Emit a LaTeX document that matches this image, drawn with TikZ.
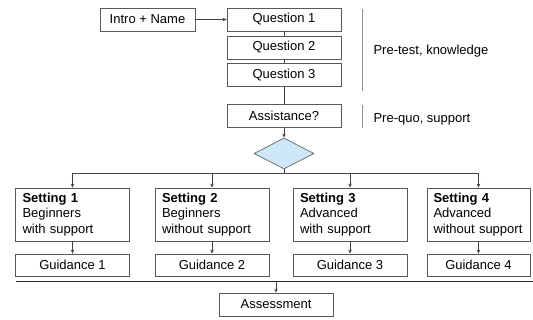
\documentclass[tikz,border=0pt]{standalone}
\usepackage{fontspec}
\setmainfont{Liberation Sans}
\usepackage{xcolor}
\usetikzlibrary{arrows.meta}
\usetikzlibrary{shapes.geometric}
\definecolor{diafill}{RGB}{206,232,250}

\begin{document}
\begin{tikzpicture}[x=1pt,y=-1pt]
\tikzstyle{every node}=[font=\fontsize{13}{15.5}\selectfont]
\tikzstyle{box}=[draw=black!65, line width=0.8pt, fill=white, minimum width=114, minimum height=23, inner sep=0pt]
\tikzstyle{setbox}=[box, minimum height=53, text width=100, align=left, inner xsep=7pt]
\tikzstyle{conn}=[draw=black!75, line width=0.8pt]
\tikzstyle{arr}=[conn, -{Stealth[length=4pt,width=3.5pt]}]
\tikzstyle{sidebar}=[draw=black!45, line width=0.8pt]
\useasboundingbox (0,0) rectangle (533,320);
% top column
\node [box, minimum width=95] (intro) at (147.5,19.5) {Intro + Name};
\node [box] (q1) at (284,19.5) {Question 1};
\node [box] (q2) at (284,47.5) {Question 2};
\node [box] (q3) at (284,75) {Question 3};
\node [box] (assist) at (284,116) {Assistance?};
\node [diamond, draw=black!55, line width=0.8pt, fill=diafill, minimum width=60, minimum height=31, inner sep=0pt] (dia) at (284,153.5) {};
\draw [arr] (intro) -- (q1);
\draw [conn] (q1) -- (q2);
\draw [conn] (q2) -- (q3);
\draw [conn] (q3) -- (assist);
\draw [arr] (assist) -- (dia);
% side notes
\node [anchor=west] (pretest) at (370,51) {Pre-test, knowledge};
\node [anchor=west] (prequo) at (370,119) {Pre-quo, support};
\draw [sidebar] ([xshift=-8]pretest.west) ++(0,-42) -- ++(0,82);
\draw [sidebar] ([xshift=-8]prequo.west) ++(0,-14) -- ++(0,23);
% settings
\node [setbox] (s1) at (72.5,214.5) {\textbf{Setting 1}\\Beginners\\with support};
\node [setbox] (s2) at (212,214.5) {\textbf{Setting 2}\\Beginners\\without support};
\node [setbox] (s3) at (350,214.5) {\textbf{Setting 3}\\Advanced\\with support};
\node [setbox, minimum width=103, text width=90, inner xsep=6.5pt] (s4) at (478.5,214.5) {\textbf{Setting 4}\\Advanced\\without support};
\node [box, minimum height=22] (g1) at (72.5,265) {Guidance 1};
\node [box, minimum height=22] (g2) at (212,265) {Guidance 2};
\node [box, minimum height=22] (g3) at (350,265) {Guidance 3};
\node [box, minimum height=22, minimum width=103] (g4) at (478.5,265) {Guidance 4};
\coordinate (split) at (284,173);
\draw [conn] (dia.south) -- (split);
\draw [arr] (split) -| (s1.north);
\draw [arr] (split) -| (s2.north);
\draw [arr] (split) -| (s3.north);
\draw [arr] (split) -| (s4.north);
\draw [arr] (s1) -- (g1);
\draw [arr] (s2) -- (g2);
\draw [arr] (s3) -- (g3);
\draw [arr] (s4) -- (g4);
% bottom
\coordinate (barL) at (16,281.5);
\coordinate (barR) at (533,281.5);
\draw [line width=1.6pt, black!85] (barL) -- (barR);
\node [box] (assess) at (276,304.5) {Assessment};
\draw [arr] (assess.north |- barL) -- (assess.north);
\end{tikzpicture}
\end{document}
